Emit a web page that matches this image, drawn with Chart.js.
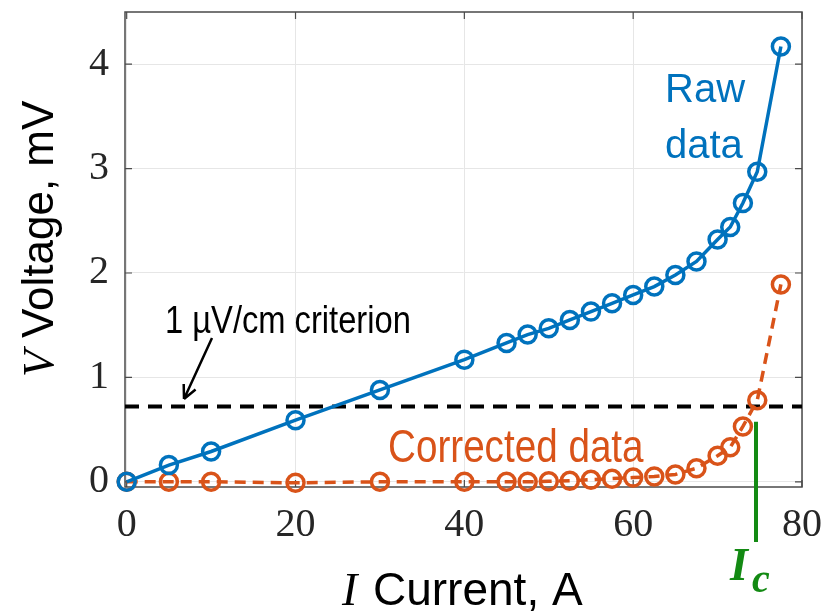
<!DOCTYPE html>
<html>
<head>
<meta charset="utf-8">
<script src="https://cdn.jsdelivr.net/npm/chart.js@4/dist/chart.umd.min.js"></script>
<style>
  html, body { margin: 0; padding: 0; background: #fff; }
</style>
</head>
<body>
<canvas id="chart" width="828" height="613"></canvas>
<script>
// measurement points, current in A
const current = [0, 5, 10, 20, 30, 40, 45, 47.5, 50, 52.5, 55, 57.5, 60, 62.5, 65, 67.5, 70, 71.5, 73, 74.7, 77.5];
// voltage in mV
const rawVoltage = [0, 0.16, 0.29, 0.59, 0.88, 1.17, 1.33, 1.41, 1.47, 1.55, 1.63, 1.71, 1.79, 1.87, 1.98, 2.11, 2.32, 2.44, 2.67, 2.97, 4.17];
const correctedVoltage = [0, 0, 0, -0.01, 0, 0, 0, 0, 0.005, 0.01, 0.02, 0.03, 0.04, 0.05, 0.07, 0.13, 0.25, 0.33, 0.53, 0.78, 1.89];
// 1 uV/cm criterion level
const criterionI = [-0.2, 80];
const criterionV = [0.72, 0.72];
// critical current marker
const icCurrent = 74.55;
const icTopV = 0.575;

const xTicks = [0, 20, 40, 60, 80];
const yTicks = [0, 1, 2, 3, 4];

const blue = '#0072BD';
const orange = '#D95319';
const green = '#138a13';
const axisColor = '#4a4a4a';

function pts(xs, ys) {
    return xs.map((x, i) => ({ x: x, y: ys[i] }));
}

function drawText(ctx, str, x, y, font, color, sx) {
    ctx.save();
    ctx.translate(x, y);
    ctx.scale(sx || 1, 1);
    ctx.font = font;
    ctx.fillStyle = color;
    ctx.textAlign = 'left';
    ctx.textBaseline = 'alphabetic';
    ctx.fillText(str, 0, 0);
    ctx.restore();
}

const boxPlugin = {
    id: 'box',
    beforeDatasetsDraw(chart) {
        const ctx = chart.ctx;
        const a = chart.chartArea;
        const xs = chart.scales.x, ys = chart.scales.y;
        ctx.save();
        ctx.strokeStyle = axisColor;
        ctx.lineWidth = 1.5;
        ctx.strokeRect(a.left, a.top, a.right - a.left, a.bottom - a.top);
        ctx.lineWidth = 1.2;
        ctx.beginPath();
        yTicks.forEach(v => {
            const py = ys.getPixelForValue(v);
            ctx.moveTo(a.left, py); ctx.lineTo(a.left + 7, py);
            ctx.moveTo(a.right, py); ctx.lineTo(a.right - 7, py);
        });
        xTicks.forEach(v => {
            const px = xs.getPixelForValue(v);
            ctx.moveTo(px, a.bottom); ctx.lineTo(px, a.bottom - 7);
            ctx.moveTo(px, a.top); ctx.lineTo(px, a.top + 7);
        });
        ctx.stroke();
        ctx.restore();
    },
    afterDraw(chart) {
        const ctx = chart.ctx;
        const xs = chart.scales.x, ys = chart.scales.y;

        // axis titles
        ctx.save();
        ctx.translate(53, 377);
        ctx.rotate(-Math.PI / 2);
        ctx.fillStyle = '#000';
        ctx.font = 'italic 44px "Liberation Serif"';
        ctx.fillText('V', 0, 0);
        let w = ctx.measureText('V').width;
        ctx.font = '44px "Liberation Sans", Arial';
        ctx.fillText(' Voltage, mV', w, 0);
        ctx.restore();

        drawText(ctx, 'I', 342, 605, 'italic 46px "Liberation Serif"', '#000');
        drawText(ctx, 'Current, A', 373, 605, '46px "Liberation Sans", Arial', '#000');

        // labels
        drawText(ctx, 'Raw', 665, 102, '40px "Liberation Sans", Arial', blue);
        drawText(ctx, 'data', 665, 158, '40px "Liberation Sans", Arial', blue);
        drawText(ctx, 'Corrected data', 388, 462, '46px "Liberation Sans", Arial', orange, 0.84);
        drawText(ctx, '1 \u00b5V/cm criterion', 165, 333, '38px "Liberation Sans", Arial', '#000', 0.86);

        // arrow to criterion line
        ctx.save();
        ctx.strokeStyle = '#000';
        ctx.lineWidth = 2.5;
        const x1 = 212, y1 = 338, x2 = 184, y2 = 399;
        ctx.beginPath();
        ctx.moveTo(x1, y1); ctx.lineTo(x2, y2);
        const ang = Math.atan2(y2 - y1, x2 - x1);
        ctx.moveTo(x2, y2);
        ctx.lineTo(x2 - 15 * Math.cos(ang - 0.45), y2 - 15 * Math.sin(ang - 0.45));
        ctx.moveTo(x2, y2);
        ctx.lineTo(x2 - 15 * Math.cos(ang + 0.45), y2 - 15 * Math.sin(ang + 0.45));
        ctx.stroke();
        ctx.restore();

        // Ic marker
        const ix = xs.getPixelForValue(icCurrent);
        ctx.save();
        ctx.strokeStyle = green;
        ctx.lineWidth = 4;
        ctx.beginPath();
        ctx.moveTo(ix, ys.getPixelForValue(icTopV));
        ctx.lineTo(ix, 542);
        ctx.stroke();
        ctx.restore();
        drawText(ctx, 'I', 730, 580, 'bold italic 46px "Liberation Serif"', green);
        drawText(ctx, 'c', 752, 592, 'bold italic 40px "Liberation Serif"', green);
    }
};

const tickFont = { family: 'Liberation Serif', size: 40 };

new Chart(document.getElementById('chart'), {
    type: 'line',
    data: {
        datasets: [
            {
                label: 'Raw data',
                data: pts(current, rawVoltage),
                borderColor: blue,
                borderWidth: 3.5,
                pointRadius: 8.5,
                pointBorderWidth: 3.5,
                pointBorderColor: blue,
                pointBackgroundColor: 'rgba(0,0,0,0)',
                clip: false,
                order: 1
            },
            {
                label: 'Corrected data',
                data: pts(current, correctedVoltage),
                borderColor: orange,
                borderWidth: 3.5,
                borderDash: [11, 7],
                pointRadius: 8.5,
                pointBorderWidth: 3.5,
                pointBorderColor: orange,
                pointBackgroundColor: 'rgba(0,0,0,0)',
                clip: false,
                order: 2
            },
            {
                label: 'criterion',
                data: pts(criterionI, criterionV),
                borderColor: '#000',
                borderWidth: 4,
                borderDash: [14, 9],
                pointRadius: 0,
                order: 3
            }
        ]
    },
    options: {
        responsive: false,
        animation: false,
        devicePixelRatio: 1,
        layout: { padding: { left: 0, right: 26, top: 12, bottom: 0 } },
        plugins: {
            legend: { display: false },
            tooltip: { enabled: false }
        },
        scales: {
            x: {
                type: 'linear',
                min: -0.2,
                max: 80,
                afterBuildTicks: s => { s.ticks = xTicks.map(v => ({ value: v })); },
                afterFit: s => { s.height = 126; s.paddingLeft = 0; s.paddingRight = 0; },
                grid: { color: '#e6e6e6', lineWidth: 1, drawTicks: false },
                border: { display: false },
                ticks: { font: tickFont, color: '#262626', padding: 14, maxRotation: 0, autoSkip: false }
            },
            y: {
                type: 'linear',
                min: -0.05,
                max: 4.5,
                afterBuildTicks: s => { s.ticks = yTicks.map(v => ({ value: v })); },
                afterFit: s => { s.width = 125; s.paddingTop = 0; s.paddingBottom = 0; },
                grid: { color: '#e6e6e6', lineWidth: 1, drawTicks: false },
                border: { display: false },
                ticks: { font: tickFont, color: '#262626', padding: 16 }
            }
        }
    },
    plugins: [boxPlugin]
});
</script>
</body>
</html>
